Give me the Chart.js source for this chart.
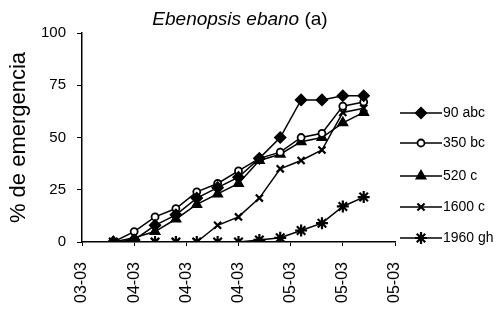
<!DOCTYPE html>
<html>
<head>
<meta charset="utf-8">
<script src="https://cdn.jsdelivr.net/npm/chart.js@4"></script>
<style>
  html, body { margin: 0; padding: 0; background: #fff; }
  #wrap { width: 496px; height: 323px; }
</style>
</head>
<body>
<div id="wrap"><canvas id="chart" width="496" height="323"></canvas></div>
<script>
// x position of each reading (axis units, one tick = 2.5 units)
const sampleX = [1.5, 2.5, 3.5, 4.5, 5.5, 6.5, 7.5, 8.5, 9.5, 10.5, 11.5, 12.5, 13.5];
const tickLabels = ['03-03', '04-03', '04-03', '04-03', '05-03', '05-03', '05-03'];
const yTicks = [0, 25, 50, 75, 100];

const seriesNames = ['90 abc', '350 bc', '520 c', '1600 c', '1960 gh'];
const s90   = [0, 1, 8, 13, 21, 26, 31, 40, 50, 68, 68, 70, 70];
const s350  = [0, 5, 12, 16, 24, 28, 34, 40, 43, 50, 52, 65, 67];
const s520  = [0, 2, 5, 11, 18, 23, 28, 39, 42, 48, 50, 57, 62];
const s1600 = [0, 0, 0, 0, 0, 8, 12, 21, 35, 39, 44, 62, 64];
const s1960 = [0, 0, 0, 0, 0, 0, 0, 1, 2, 5.5, 9, 17, 21.5];

const marks = [
  { style: 'rectRot',  radius: 5.5, fill: '#000', bw: 1.5 },
  { style: 'circle',   radius: 3.5, fill: '#fff', bw: 1.8 },
  { style: 'triangle', radius: 5.5, fill: '#000', bw: 1.5 },
  { style: 'crossRot', radius: 5,   fill: '#000', bw: 2.2 },
  { style: 'star',     radius: 6,   fill: '#000', bw: 2.2 }
];

function toPoints(vals) {
  return vals.map((v, i) => ({ x: sampleX[i], y: v }));
}

const allSeries = [s90, s350, s520, s1600, s1960];
const datasets = allSeries.map((vals, k) => ({
  label: seriesNames[k],
  data: toPoints(vals),
  borderColor: '#000',
  borderWidth: 1.5,
  backgroundColor: marks[k].fill,
  pointStyle: marks[k].style,
  pointRadius: marks[k].radius,
  pointBorderWidth: marks[k].bw,
  pointBorderColor: '#000',
  pointBackgroundColor: marks[k].fill,
  tension: 0
}));

// title with italic species name and plain "(a)"
const titlePlugin = {
  id: 'titleDraw',
  afterDraw(chart) {
    const ctx = chart.ctx;
    ctx.save();
    ctx.fillStyle = '#000';
    ctx.textBaseline = 'middle';
    const italic = 'italic 19px "Liberation Sans", Arial, sans-serif';
    const plain = '19px "Liberation Sans", Arial, sans-serif';
    const a = 'Ebenopsis ebano ';
    const b = '(a)';
    ctx.font = italic;
    const wa = ctx.measureText(a).width;
    ctx.font = plain;
    const wb = ctx.measureText(b).width;
    let x = 240 - (wa + wb) / 2;
    ctx.font = italic;
    ctx.fillText(a, x, 20);
    ctx.font = plain;
    ctx.fillText(b, x + wa, 20);
    ctx.restore();
  }
};

// legend: short line with marker, label to the right
const legendPlugin = {
  id: 'sideLegend',
  afterDraw(chart) {
    const ctx = chart.ctx;
    const rows = [113, 143, 176, 207, 238];
    ctx.save();
    chart.data.datasets.forEach((ds, k) => {
      const y = rows[k];
      ctx.strokeStyle = '#000';
      ctx.lineWidth = 1.5;
      ctx.beginPath();
      ctx.moveTo(400, y);
      ctx.lineTo(442, y);
      ctx.stroke();
      ctx.fillStyle = marks[k].fill;
      ctx.lineWidth = marks[k].bw;
      Chart.helpers.drawPoint(ctx, {
        pointStyle: marks[k].style,
        radius: marks[k].radius,
        borderWidth: marks[k].bw
      }, 421, y);
      ctx.fillStyle = '#000';
      ctx.font = '14px "Liberation Sans", Arial, sans-serif';
      ctx.textBaseline = 'middle';
      ctx.fillText(ds.label, 443, y);
    });
    ctx.restore();
  }
};

new Chart(document.getElementById('chart'), {
  type: 'line',
  data: { datasets },
  options: {
    responsive: false,
    animation: false,
    layout: { padding: { top: 33, right: 101, left: 0, bottom: 0 } },
    plugins: {
      legend: { display: false },
      tooltip: { enabled: false }
    },
    scales: {
      x: {
        type: 'linear',
        min: 0,
        max: 15,
        afterFit(scale) { scale.height = 81; },
        afterBuildTicks(scale) {
          scale.ticks = tickLabels.map((t, i) => ({ value: i * 2.5 }));
        },
        ticks: {
          color: '#000',
          minRotation: 90,
          maxRotation: 90,
          padding: 16,
          autoSkip: false,
          font: { family: '"Liberation Sans", Arial, sans-serif', size: 16 },
          callback(v, i) { return tickLabels[i]; }
        },
        grid: { drawOnChartArea: false, drawTicks: true, tickLength: 4, color: '#000' },
        border: { color: '#000', width: 1.5 }
      },
      y: {
        min: 0,
        max: 100,
        afterFit(scale) { scale.width = 82; },
        afterBuildTicks(scale) {
          scale.ticks = yTicks.map(v => ({ value: v }));
        },
        ticks: {
          color: '#000',
          padding: 11,
          font: { family: '"Liberation Sans", Arial, sans-serif', size: 15 }
        },
        title: {
          display: true,
          text: '% de emergencia',
          color: '#000',
          padding: { top: 6, bottom: 0 },
          font: { family: '"Liberation Sans", Arial, sans-serif', size: 22 }
        },
        grid: { drawOnChartArea: false, drawTicks: true, tickLength: 5, color: '#000' },
        border: { color: '#000', width: 1.5 }
      }
    }
  },
  plugins: [titlePlugin, legendPlugin]
});
</script>
</body>
</html>
